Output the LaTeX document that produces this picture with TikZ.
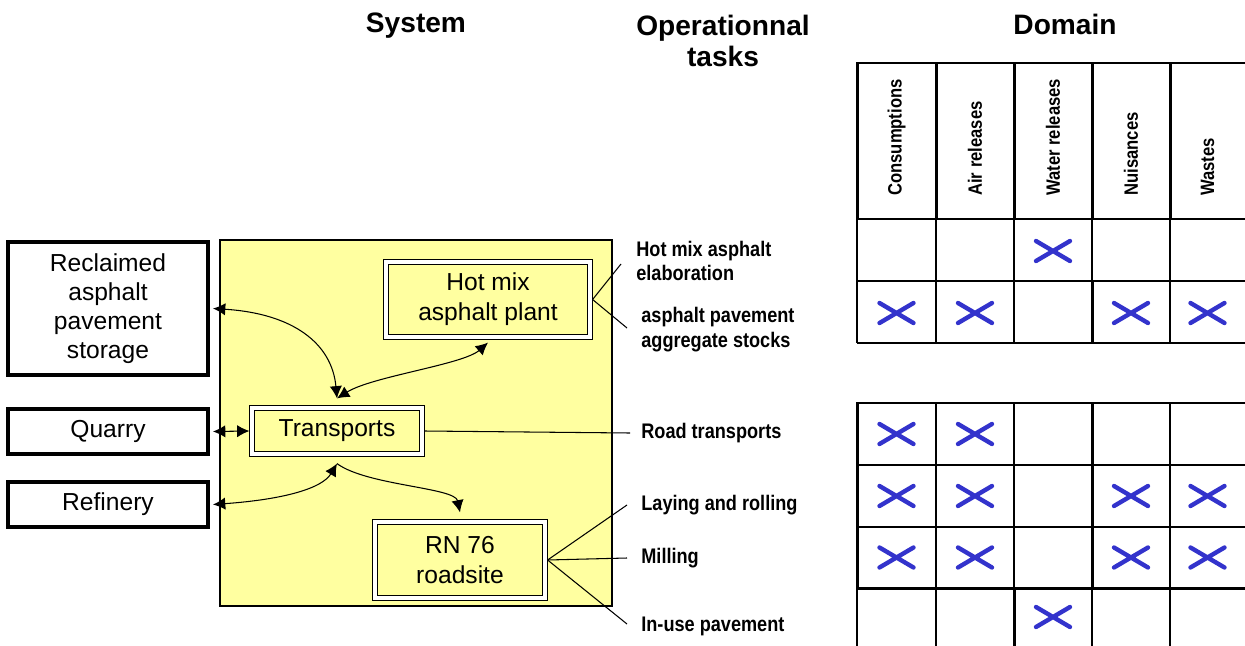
\documentclass[tikz,border=0pt]{standalone}
\usepackage{fontspec}
\setmainfont{Liberation Sans}
\newfontfamily\taskfont[FakeStretch=0.86]{Liberation Sans}
\usetikzlibrary{arrows.meta,positioning,calc}

\definecolor{sysyellow}{RGB}{255,255,160}
\definecolor{markblue}{RGB}{51,51,204}

\tikzset{
  outside/.style={draw, line width=2.3pt, fill=white, minimum width=4cm, align=center, inner sep=0pt, font=\fontsize{14}{16.5}\selectfont},
  unit/.style={draw, double, double distance=1.8pt, line width=0.7pt, fill=sysyellow, align=center, inner sep=0pt, font=\fontsize{14}{17}\selectfont},
  flow/.style={line width=0.6pt, {Latex[length=7pt,width=7pt]}-{Latex[length=7pt,width=7pt]}},
  oneway/.style={line width=0.6pt, -{Latex[length=7pt,width=7pt]}},
  tie/.style={line width=0.6pt},
  task/.style={anchor=west, align=left, inner sep=0pt, font=\taskfont\bfseries\fontsize{12}{14}\selectfont},
  colhead/.style={rotate=90, anchor=west, inner sep=0pt, font=\taskfont\bfseries\fontsize{11}{13}\selectfont},
  heading/.style={align=center, inner sep=0pt, font=\bfseries\fontsize{16}{18}\selectfont},
  thinrule/.style={line width=0.8pt},
  thickrule/.style={line width=1.7pt},
  xmark/.style={markblue, line width=2.5pt, line cap=round},
}

\begin{document}
\begin{tikzpicture}[x=0.02cm, y=-0.02cm]
\useasboundingbox (0,0) rectangle (1245,646);

% headings
\node[heading] (hsys) at (416,26) {System};
\node[heading] (htask) at (723,41) {Operationnal\\tasks};
\node[heading] (hdom) at (1065,24) {Domain};

% system area
\fill[sysyellow] (220,240) rectangle (612,606);
\draw[line width=1pt] (220,240) rectangle (612,606);

% outside sites
\node[outside, minimum height=2.66cm] (rec) at (108,308.5) {Reclaimed\\asphalt\\pavement\\storage};
\node[outside, minimum height=0.9cm] (qry) at (108,431.5) {Quarry};
\node[outside, minimum height=0.9cm] (ref) at (108,504.5) {Refinery};

% units of the system
\node[unit, minimum width=4.08cm, minimum height=1.5cm] (hot) at (488,299.5) {Hot mix\\asphalt plant};
\node[unit, minimum width=3.4cm, minimum height=0.92cm] (trn) at (337,431) {Transports};
\node[unit, minimum width=3.4cm, minimum height=1.52cm] (rn) at (460,560) {RN 76\\roadsite};

\coordinate (ttop) at ($(trn.north)+(0,-9)$);
\coordinate (tbot) at ($(trn.south)+(0,9)$);

% flows
\draw[flow] ($(rec.east)+(3,0)$) .. controls +(80,5) and +(-5,-55) .. (ttop);
\draw[flow] (ttop) .. controls +(35,-22) and +(-25,22) .. ($(hot.south)+(0,5)$);
\draw[flow] ($(qry.east)+(3,0)$) -- ($(trn.west)+(-2,0)$);
\draw[flow] ($(ref.east)+(3,0)$) .. controls +(70,-5) and +(-15,25) .. (tbot);
\draw[oneway] (tbot) .. controls +(30,22) and +(-5,-25) .. ($(rn.north)+(0,-9)$);

% operational tasks
\node[task] (t1) at (636,261) {Hot mix asphalt\\elaboration};
\node[task] (t2) at (641,329.5) {asphalt pavement\\aggregate stocks};
\node[task] (t3) at (641,433) {Road transports};
\node[task] (t4) at (641,505) {Laying and rolling};
\node[task] (t5) at (641,558) {Milling};
\node[task] (t6) at (641,626) {In-use pavement};

\coordinate (e1) at (621,264);
\coordinate (e2) at (627,328);
\coordinate (e4) at (627,505);
\coordinate (e6) at (627,624);
\draw[tie] ($(hot.east)+(2,0)$) -- (e1);
\draw[tie] ($(hot.east)+(2,0)$) -- (e2);
\draw[tie] ($(trn.east)+(2,0)$) -- ($(t3.west)+(-11,0)$);
\draw[tie] ($(rn.east)+(2,0)$) -- (e4);
\draw[tie] ($(rn.east)+(2,0)$) -- ($(t5.west)+(-14,0)$);
\draw[tie] ($(rn.east)+(2,0)$) -- (e6);

% domain headers
\foreach \x in {857,936,1014,1092,1170}
  \draw[thickrule] (\x,63) -- (\x,219);
\draw[thickrule] (856,63) -- (1245,63);
\draw[thinrule] (857,219) -- (1245,219);
\draw[thickrule] (1014,219) -- (1092,219);
\foreach \cx/\name/\txt in {896.5/cons/Consumptions, 975/air/Air releases, 1053/wat/Water releases, 1131/nui/Nuisances, 1207.5/was/Wastes}
  \node[colhead] (h\name) at (\cx,196) {\txt};

% first table
\draw[thickrule] (857,281) -- (1245,281);
\draw[thickrule] (857,343) -- (1245,343);
\foreach \x in {857,936,1014,1170}
  \draw[thinrule] (\x,219) -- (\x,343);
\draw[thinrule] (1092,219) -- (1092,281);
\draw[thickrule] (1092,281) -- (1092,343);

% second table
\foreach \y in {403,465,527,588}
  \draw[thickrule] (856,\y) -- (1245,\y);
\draw[thickrule] (857,403) -- (857,588);
\draw[thickrule] (1092,403) -- (1092,588);
\draw[thickrule] (1014,588) -- (1014,646);
\foreach \x in {936,1170}
  \draw[thinrule] (\x,403) -- (\x,646);
\draw[thinrule] (1014,403) -- (1014,588);
\draw[thinrule] (857,588) -- (857,646);
\draw[thinrule] (1092,588) -- (1092,646);

% crosses
\foreach \cx/\cy in {1053/251, 896.5/313, 975/313, 1131/313, 1207.5/313,
                     896.5/434, 975/434,
                     896.5/496, 975/496, 1131/496, 1207.5/496,
                     896.5/557.5, 975/557.5, 1131/557.5, 1207.5/557.5,
                     1053/617}
  \draw[xmark] (\cx,\cy) +(-17,-10) -- +(17,10) +(-17,10) -- +(17,-10);
\end{tikzpicture}
\end{document}
